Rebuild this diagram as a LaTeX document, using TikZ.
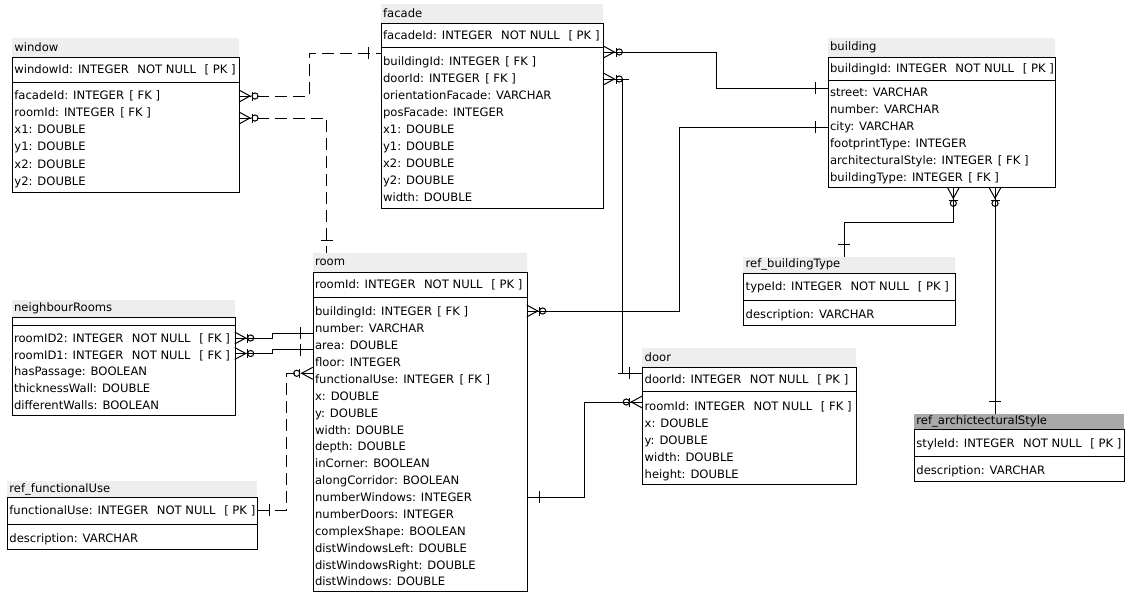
\documentclass[tikz,border=0pt]{standalone}
\usepackage{fontspec}
\setmainfont{DejaVu Sans}
\usetikzlibrary{calc}
\definecolor{titlegray}{RGB}{238,238,238}
\definecolor{selgray}{RGB}{168,168,168}
\newcommand\NN{\hspace{6.3pt}NOT NULL\hspace{6.5pt}}
\newcommand\FK{\hspace{4pt}[ FK ]}
\newcommand\PK{[ PK ]}
\def\tcol{titlegray}
\tikzset{
 lw/.style={line width=0.75pt},
 tbox/.style={draw, line width=0.75pt, inner sep=0pt},
 txt/.style={inner xsep=1.6pt, inner ysep=0pt, font=\fontsize{8.7pt}{10pt}\selectfont},
 rel/.style={line width=0.75pt},
 reld/.style={line width=0.75pt, dash pattern=on 9pt off 4.5pt},
}
% id, title, xl, xr, title top, top, sep, bottom, pk text
\newcommand{\ertable}[9]{%
  \fill[\tcol] (#3,#5) rectangle (#4,#6);
  \node[txt, anchor=west] (#1-title) at (#3,{(#5+#6)/2}) {#2};
  \node[tbox, anchor=north west, minimum width={(#4-#3)*0.75pt}, minimum height={(#8-#6)*0.75pt}] (#1) at (#3,#6) {};
  \draw[lw] (#3,#7) -- (#4,#7);
  \node[txt, anchor=base west] (#1-pk) at (#3,{(#6+#7)/2+4.2}) {#9};
}
% id, xl, first, step, list
\newcommand{\errows}[5]{%
  \foreach \rowtext [count=\i] in {#5} {
    \node[txt, anchor=base west] (#1-r\i) at (#2,{#3+(\i-1)*#4+4.2}) {\rowtext};
  }
}
\newcommand{\zmany}[2]{%
  \begin{scope}[shift={(#1)}, rotate=#2]
    \draw[lw] (0,-6) -- (11,0) -- (0,6);
    \draw[lw] (13,-4.5) -- (13,4.5);
    \draw[lw] (16,0) circle[radius=2.3pt];
  \end{scope}}
\newcommand{\onemark}[2]{%
  \begin{scope}[shift={(#1)}, rotate=#2]
    \draw[lw] (12.5,-6) -- (12.5,6);
  \end{scope}}
\begin{document}
\begin{tikzpicture}[x=0.75pt,y=-0.75pt]
\useasboundingbox[fill=white] (0,0) rectangle (1125,594);

% ---------- tables ----------
\ertable{window}{window}{12}{239}{38}{57}{82}{192}{windowId: INTEGER\NN\PK}
\errows{window}{12}{95}{17.2}{{facadeId: INTEGER\FK},{roomId: INTEGER\FK},{x1: DOUBLE},{y1: DOUBLE},{x2: DOUBLE},{y2: DOUBLE}}

\ertable{facade}{facade}{380.7}{603.3}{4}{23.3}{47.3}{208.3}{facadeId: INTEGER\NN\PK}
\errows{facade}{380.7}{61.7}{16.9}{{buildingId: INTEGER\FK},{doorId: INTEGER\FK},{orientationFacade: VARCHAR},{posFacade: INTEGER},{x1: DOUBLE},{y1: DOUBLE},{x2: DOUBLE},{y2: DOUBLE},{width: DOUBLE}}

\ertable{building}{building}{827.7}{1055}{38}{57.3}{80}{187.3}{buildingId: INTEGER\NN\PK}
\errows{building}{827.7}{92}{17}{{street: VARCHAR},{number: VARCHAR},{city: VARCHAR},{footprintType: INTEGER},{architecturalStyle: INTEGER\FK},{buildingType: INTEGER\FK}}

\ertable{btype}{ref\_buildingType}{743.3}{954.7}{256.5}{272.7}{300.7}{325}{typeId: INTEGER\NN\PK}
\errows{btype}{743.3}{314.5}{17}{{description: VARCHAR}}

\ertable{nbr}{neighbourRooms}{11.7}{234.7}{300}{317.3}{325}{415}{}
\errows{nbr}{11.7}{338.3}{16.7}{{roomID2: INTEGER\NN[ FK ]},{roomID1: INTEGER\NN[ FK ]},{hasPassage: BOOLEAN},{thicknessWall: DOUBLE},{differentWalls: BOOLEAN}}

\ertable{room}{room}{312.7}{526.7}{253.3}{271.7}{297.7}{590.5}{roomId: INTEGER\NN\PK}
\errows{room}{312.7}{311.7}{16.875}{{buildingId: INTEGER\FK},{number: VARCHAR},{area: DOUBLE},{floor: INTEGER},{functionalUse: INTEGER\FK},{x: DOUBLE},{y: DOUBLE},{width: DOUBLE},{depth: DOUBLE},{inCorner: BOOLEAN},{alongCorridor: BOOLEAN},{numberWindows: INTEGER},{numberDoors: INTEGER},{complexShape: BOOLEAN},{distWindowsLeft: DOUBLE},{distWindowsRight: DOUBLE},{distWindows: DOUBLE}}

\ertable{door}{door}{642.3}{856.3}{348.3}{366.7}{391.7}{484}{doorId: INTEGER\NN\PK}
\errows{door}{642.3}{406.7}{17}{{roomId: INTEGER\NN[ FK ]},{x: DOUBLE},{y: DOUBLE},{width: DOUBLE},{height: DOUBLE}}

\def\tcol{selgray}
\ertable{astyle}{ref\_archictecturalStyle}{914}{1123.5}{414}{429.3}{456.7}{480.7}{styleId: INTEGER\NN\PK}
\errows{astyle}{914}{470.7}{17}{{description: VARCHAR}}
\def\tcol{titlegray}

\ertable{fuse}{ref\_functionalUse}{7}{257.3}{481}{497}{524}{549}{functionalUse: INTEGER\NN\PK}
\errows{fuse}{7}{538}{17}{{description: VARCHAR}}

% ---------- connector end points ----------
\coordinate (c1a) at (239,96);      \coordinate (c1b) at (380.7,53);
\coordinate (c2a) at (239,118);     \coordinate (c2b) at (326.7,253.3);
\coordinate (c3a) at (603.3,52);    \coordinate (c3b) at (827.7,88.3);
\coordinate (c4a) at (603.3,79);    \coordinate (c4b) at (642.3,373.3);
\coordinate (c5a) at (526.7,497.3); \coordinate (c5b) at (642.3,402);
\coordinate (c6a) at (827.7,127.3); \coordinate (c6b) at (526.7,311);
\coordinate (c7a) at (953.3,187.3); \coordinate (c7b) at (844.3,256.5);
\coordinate (c8a) at (995,187.3);   \coordinate (c8b) at (995,414);
\coordinate (c9a) at (234.7,338);   \coordinate (c9b) at (312.7,333.3);
\coordinate (c10a) at (234.7,353.5);\coordinate (c10b) at (312.7,349.5);
\coordinate (c11a) at (257.3,510);  \coordinate (c11b) at (312.7,373.3);

% ---------- connectors ----------
\draw[reld] (c1a) -- ++(70,0) |- (c1b);
\zmany{c1a}{0} \onemark{c1b}{180}

\draw[reld] (c2a) -| (c2b);
\zmany{c2a}{0} \onemark{c2b}{90}

\draw[rel] (c3a) -- ++(113.4,0) |- (c3b);
\zmany{c3a}{0} \onemark{c3b}{180}

\draw[rel] (c4a) -- ++(25.7,0);
\draw[rel] (c4a) ++(19.4,0) |- (c4b);
\draw[rel] (c4b) -- ++(-24.3,0);
\zmany{c4a}{0} \onemark{c4b}{180}

\draw[rel] (c5a) -- ++(58,0) |- (c5b);
\onemark{c5a}{0} \zmany{c5b}{180}

\draw[rel] (c6a) -- ++(-148.4,0) |- (c6b);
\onemark{c6a}{180} \zmany{c6b}{0}

\draw[rel] (c7a) -- ++(0,35) -| (c7b);
\zmany{c7a}{-90} \onemark{c7b}{90}

\draw[rel] (c8a) -- (c8b);
\zmany{c8a}{-90} \onemark{c8b}{90}

\draw[rel] (c9a) -- ++(38,0) |- (c9b);
\zmany{c9a}{0} \onemark{c9b}{180}

\draw[rel] (c10a) -- ++(38,0) |- (c10b);
\zmany{c10a}{0} \onemark{c10b}{180}

\draw[reld] (c11a) -- ++(28.7,0) |- (c11b);
\onemark{c11a}{0} \zmany{c11b}{180}
\end{tikzpicture}
\end{document}
